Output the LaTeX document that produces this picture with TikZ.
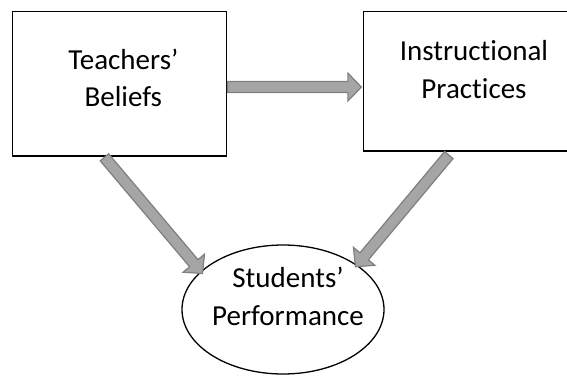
\documentclass[tikz,border=0pt]{standalone}
\usepackage{fontspec}
\setmainfont[Ligatures=NoCommon]{Carlito}
\usetikzlibrary{calc,shapes.geometric}
\definecolor{arrfill}{HTML}{A5A5A5}
\definecolor{arrline}{HTML}{7F7F7F}
\tikzset{
  boxnode/.style={draw=black, line width=1.3pt, rectangle, inner sep=0pt},
  ellnode/.style={draw=black, line width=1.3pt, ellipse, inner sep=0pt},
  txt/.style={align=center, inner sep=0pt, anchor=base, font=\fontsize{29}{37.5}\selectfont},
  fatarrow/.style={fill=arrfill, draw=arrline, line width=1.2pt, line join=miter},
}
\newcommand{\fatarrowpath}[2]{%
  \coordinate (hb) at ($(#2)!13.5pt!(#1)$);
  \draw[fatarrow]
    ($(#1)!5.5pt!90:(#2)$) -- ($(hb)!5.5pt!-90:(#1)$) -- ($(hb)!14pt!-90:(#1)$) -- (#2)
    -- ($(hb)!14pt!90:(#1)$) -- ($(hb)!5.5pt!90:(#1)$) -- ($(#1)!5.5pt!-90:(#2)$) -- cycle;
}
\begin{document}
\begin{tikzpicture}[x=1pt,y=-1pt]
\path[use as bounding box] (0,0) rectangle (567,375);
\clip (0,0) rectangle (567,375);
\node[boxnode, minimum width=214pt, minimum height=144.3pt] (tb) at (119.8,83.85) {};
\node[boxnode, minimum width=214pt, minimum height=139.3pt] (ip) at (470.5,81.35) {};
\node[ellnode, minimum width=202pt, minimum height=129pt] (sp) at (283,309.5) {};
\node[txt] (tbt) at (123.3,106.7) {Teachers’\\Beliefs};
\node[txt] (ipt) at (474,98.3) {Instructional\\Practices};
\node[txt] (spt) at (288,325) {Students’\\Performance};
% connectors
\coordinate (s1) at ($(tb.east)+(0,3.2)$);
\coordinate (e1) at ($(ip.west)+(-1.5,5.7)$);
\coordinate (s2) at ($(tb.south west)+(92.3,0.7)$);
\coordinate (e2) at ($(sp.center)+(-80.5,-36)$);
\coordinate (s3) at ($(ip.south west)+(86,3.4)$);
\coordinate (e3) at ($(sp.center)+(72.5,-42.8)$);
\fatarrowpath{s1}{e1}
\fatarrowpath{s2}{e2}
\fatarrowpath{s3}{e3}
\end{tikzpicture}
\end{document}
